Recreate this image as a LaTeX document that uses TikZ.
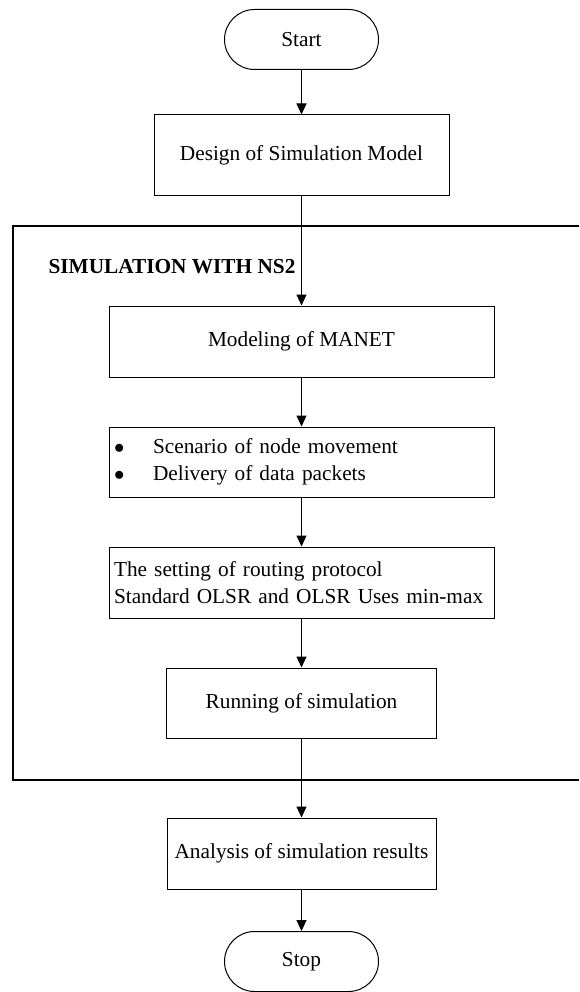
\documentclass[tikz,border=0pt]{standalone}
\usepackage{fontspec}
\setmainfont{Liberation Serif}
\usetikzlibrary{arrows.meta,shapes.misc}

\begin{document}
\begin{tikzpicture}[x=1pt,y=-1pt,
	font=\fontsize{21.3}{27}\selectfont,
	procbox/.style={draw,line width=1pt,rectangle,inner sep=0pt},
	listbox/.style={procbox,inner xsep=5pt,align=left,text width=375pt,minimum height=71pt},
	termbox/.style={draw,line width=1pt,rounded rectangle,inner sep=0pt,minimum width=154pt,minimum height=60pt},
	flowarrow/.style={line width=1pt,-{Triangle[length=11pt,width=10pt]}}]
	\useasboundingbox (0,0) rectangle (579,992);
	\draw[line width=1.6pt] (579,226) -| (13,780) -- (579,780);
	\node[anchor=base west,font=\fontsize{21.3}{27}\selectfont\bfseries] (title) at (45,273) {SIMULATION WITH NS2};
	\node[termbox] (start) at (301.5,39.5) {Start};
	\node[procbox,minimum width=295pt,minimum height=81pt] (design) at (301.5,155.5) {Design of Simulation Model};
	\node[procbox,minimum width=385pt,minimum height=71pt] (model) at (301.5,341.5) {Modeling of MANET};
	\node[listbox,minimum height=70pt] (events) at (301.5,462) {\makebox[39pt][l]{$\bullet$}Scenario of node movement\\\makebox[39pt][l]{$\bullet$}Delivery of data packets};
	\node[listbox] (routing) at (301.5,582.5) {The setting of routing protocol\\Standard OLSR and OLSR Uses min-max};
	\node[procbox,minimum width=270pt,minimum height=70pt] (running) at (301.5,703) {Running of simulation};
	\node[procbox,minimum width=269pt,minimum height=71pt] (analysis) at (301.5,853.5) {Analysis of simulation results};
	\node[termbox] (stop) at (301.5,961.5) {Stop};
	\draw[flowarrow] (start) -- (design);
	\draw[flowarrow] (design) -- (model);
	\draw[flowarrow] (model) -- (events);
	\draw[flowarrow] (events) -- (routing);
	\draw[flowarrow] (routing) -- (running);
	\draw[flowarrow] (running) -- (analysis);
	\draw[flowarrow] (analysis) -- (stop);
\end{tikzpicture}
\end{document}
